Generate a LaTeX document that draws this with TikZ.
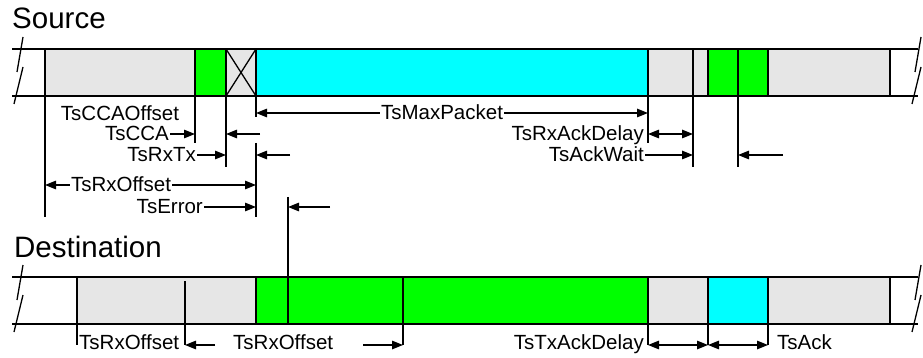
\documentclass[tikz,border=0pt]{standalone}
\usepackage{fontspec}
\setmainfont{Liberation Sans}
\usetikzlibrary{arrows.meta}
\definecolor{slotgray}{HTML}{E6E6E6}
\definecolor{pktgreen}{HTML}{00FF00}
\definecolor{pktcyan}{HTML}{00FFFF}

\begin{document}
\begin{tikzpicture}[x=1pt, y=-1pt,
    slot/.style={draw, line width=1.3pt, fill=slotgray},
    greenslot/.style={slot, fill=pktgreen},
    cyanslot/.style={slot, fill=pktcyan},
    rail/.style={line width=1.3pt},
    tick/.style={line width=1.4pt},
    arr/.style={line width=1.4pt, -{Triangle[length=11pt, width=8.5pt]}},
    twoway/.style={line width=1.4pt, {Triangle[length=11pt, width=8.5pt]}-{Triangle[length=11pt, width=8.5pt]}},
    tlabel/.style={font=\fontsize{20.5}{24}\selectfont, inner sep=1pt, text height=14pt, text depth=0pt},
    heading/.style={font=\fontsize{29.5}{34}\selectfont, inner sep=0pt, anchor=base west}
    ]
    \useasboundingbox (0,0) rectangle (923,358);

    % Titles
    \node[heading] (src) at (12,29) {Source};
    \node[heading] (dst) at (14,257) {Destination};

    % Source slots
    \draw[slot] (45,49) rectangle (195,96);
    \draw[greenslot] (195,49) rectangle (226,96);
    \draw[slot] (226,49) rectangle (256,96);
    \draw[rail] (226,49) -- (256,96) (226,96) -- (256,49);
    \draw[cyanslot] (256,49) rectangle (648,96);
    \draw[slot] (648,49) rectangle (693,96);
    \draw[slot] (693,49) rectangle (708,96);
    \draw[greenslot] (708,49) rectangle (768,96);
    \draw[slot] (768,49) rectangle (890,96);
    \draw[rail] (12,49) -- (918,49) (12,96) -- (918,96);

    % Destination slots
    \draw[slot] (77,277) rectangle (256,324);
    \draw[greenslot] (256,277) rectangle (648,324);
    \draw[slot] (648,277) rectangle (708,324);
    \draw[cyanslot] (708,277) rectangle (768,324);
    \draw[slot] (768,277) rectangle (890,324);
    \draw[rail] (12,277) -- (918,277) (12,324) -- (918,324);

    % Break marks
    \foreach \bx/\by in {0/0, 898/0, 0/228, 898/228}
        \draw[rail, shift={(\bx,\by)}] (23,37) -- (17,72) (23,67) -- (14,104);

    % Source ticks
    \coordinate (s45) at (45,96);
    \coordinate (s195) at (195,96);
    \coordinate (s226) at (226,96);
    \coordinate (s256) at (256,96);
    \coordinate (s288) at (288,197);
    \coordinate (s648) at (648,96);
    \coordinate (s693) at (693,96);
    \coordinate (s738) at (738,49);
    \draw[tick] (s45) -- (45,217);
    \draw[tick] (s195) -- (195,143);
    \draw[tick] (s226) -- (226,167);
    \draw[tick] (s256) -- (256,117) (256,143) -- (256,217);
    \draw[tick] (s288) -- (288,324);
    \draw[tick] (s648) -- (648,143);
    \draw[tick] (s693) -- (693,167);
    \draw[tick] (s738) -- (738,167);

    % Source labels
    \node[tlabel] (ccaoff) at (120,114) {TsCCAOffset};
    \node[tlabel] (maxpkt) at (442,113) {TsMaxPacket};
    \draw[arr] (maxpkt.west) -- (maxpkt.west -| s256);
    \draw[arr] (maxpkt.east) -- (maxpkt.east -| s648);

    \node[tlabel, anchor=east] (cca) at (170,134) {TsCCA};
    \draw[arr] (cca.east) -- (cca.east -| s195);
    \coordinate (ccaend) at (260,134);
    \draw[arr] (ccaend) -- (ccaend -| s226);
    \node[tlabel, anchor=east] (rxackdel) at (645,134) {TsRxAckDelay};
    \draw[twoway] (rxackdel.east -| s648) -- (rxackdel.east -| s693);

    \node[tlabel, anchor=east] (rxtx) at (197,155) {TsRxTx};
    \draw[arr] (rxtx.east) -- (rxtx.east -| s226);
    \coordinate (rxtxend) at (290,155);
    \draw[arr] (rxtxend) -- (rxtxend -| s256);
    \node[tlabel, anchor=east] (ackwait) at (645,155) {TsAckWait};
    \draw[arr] (ackwait.east) -- (ackwait.east -| s693);
    \coordinate (ackend) at (783,155);
    \draw[arr] (ackend) -- (ackend -| s738);

    \node[tlabel] (rxoff) at (121,185) {TsRxOffset};
    \draw[arr] (rxoff.west) -- (rxoff.west -| s45);
    \draw[arr] (rxoff.east) -- (rxoff.east -| s256);

    \node[tlabel, anchor=east] (err) at (204,207) {TsError};
    \draw[arr] (err.east) -- (err.east -| s256);
    \coordinate (errend) at (330,207);
    \draw[arr] (errend) -- (errend -| s288);

    % Destination ticks
    \coordinate (d77) at (77,324);
    \coordinate (d185) at (185,281);
    \coordinate (d403) at (403,277);
    \coordinate (d648) at (648,324);
    \coordinate (d708) at (708,324);
    \coordinate (d768) at (768,324);
    \foreach \t in {d77, d185, d403, d648, d708, d768}
        \draw[tick] (\t) -- (\t |- 0,345);

    % Destination labels
    \node[tlabel, anchor=west] (drxoff) at (78,342) {TsRxOffset};
    \coordinate (drxend) at (215,345);
    \draw[arr] (drxend) -- (drxend -| d185);
    \node[tlabel, anchor=west] (drxoff2) at (232,342) {TsRxOffset};
    \coordinate (drxstart) at (363,345);
    \draw[arr] (drxstart) -- (drxstart -| d403);
    \node[tlabel, anchor=east] (txackdel) at (645,342) {TsTxAckDelay};
    \coordinate (dack) at (0,345);
    \draw[twoway] (dack -| d648) -- (dack -| d708);
    \draw[twoway] (dack -| d708) -- (dack -| d768);
    \node[tlabel, anchor=west] (ack) at (776,342) {TsAck};
\end{tikzpicture}
\end{document}
